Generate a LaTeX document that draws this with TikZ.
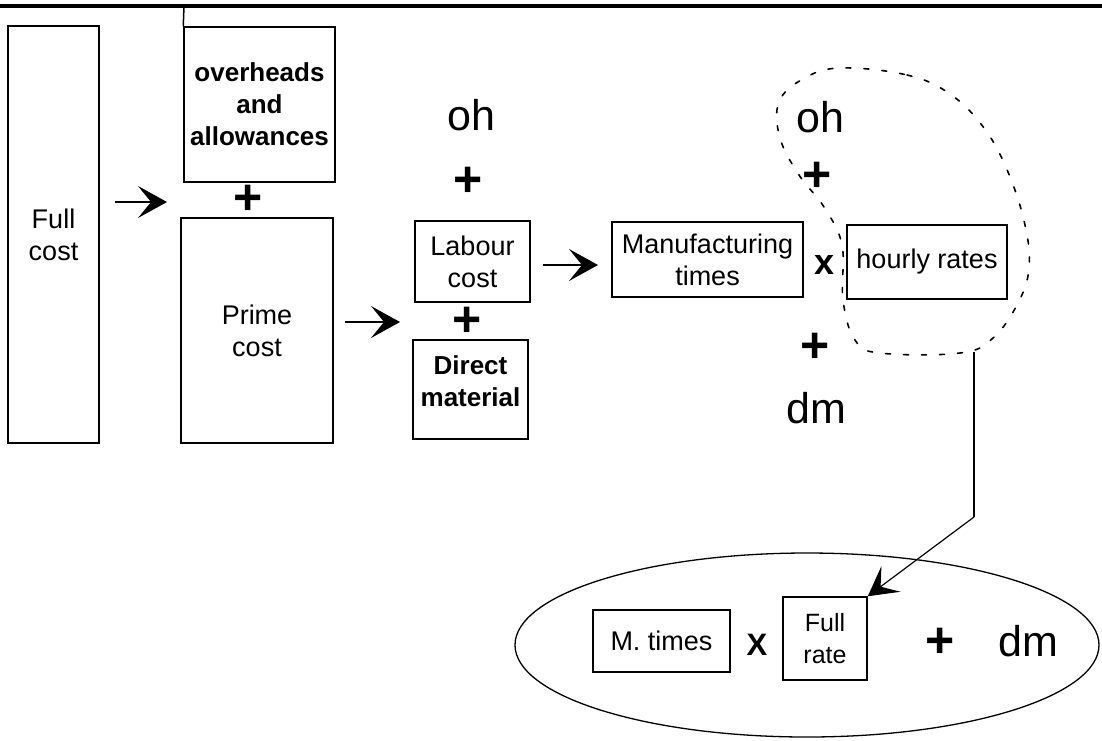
\documentclass[tikz,border=0pt]{standalone}
\usepackage{fontspec}
\setmainfont{Liberation Sans}
\usetikzlibrary{arrows.meta,shapes.geometric}
\begin{document}
\begin{tikzpicture}[x=1pt,y=-1pt,
  box/.style={draw,line width=1.5pt,inner sep=0pt,align=center,
    font=\fontsize{27}{32}\selectfont},
  boldbox/.style={box,font=\fontsize{26}{32}\selectfont\bfseries},
  plain/.style={inner sep=0pt,align=center},
  sym/.style={inner sep=0pt,font=\fontsize{50}{50}\selectfont\bfseries},
  times/.style={inner sep=0pt,anchor=base,font=\fontsize{36}{36}\selectfont\bfseries},
  term/.style={inner sep=0pt,anchor=base,font=\fontsize{43}{43}\selectfont},
  flow/.style={line width=1.3pt,-{Stealth[length=29pt,width=32pt,inset=13pt]}},
  link/.style={line width=1.2pt},
  loop/.style={line width=1.6pt,dash pattern=on 5pt off 13pt,line cap=round},
]
\useasboundingbox (0,0) rectangle (1102,740);

% heading rule
\coordinate (ruleL) at (0,6);
\coordinate (ruleR) at (1102,6);
\draw[line width=3.5pt] (ruleL) -- (ruleR);

% cost breakdown boxes
\node[box,minimum width=91pt,minimum height=417pt] (full) at (53.5,234.5) {Full\\cost};
\node[boldbox,minimum width=151pt,minimum height=155pt] (ovh) at (259.5,104.5) {overheads\\and\\allowances};
\node[box,minimum width=152pt,minimum height=225pt] (prime) at (257,330.5) {Prime\\cost};
\node[box,minimum width=115pt,minimum height=81pt] (labour) at (472.5,261.5) {Labour\\cost};
\node[box,minimum width=115pt,minimum height=99pt] (dmat) at (470.5,389.5) {};
\node[plain,font=\fontsize{26}{32}\selectfont\bfseries] (dmtxt) at (470.5,381) {Direct\\material};
\node[box,minimum width=191pt,minimum height=75pt] (manu) at (707.5,259.5) {Manufacturing\\times};
\node[box,minimum width=160pt,minimum height=74pt] (hourly) at (927,262) {hourly rates};

% stem of the overheads box up to the rule
\coordinate (stem) at (184,6);
\draw[line width=1.5pt] (stem) -- (ovh.north west);

% plus signs and terms
\node[sym] (pl1) at (248,200) {+};
\node[term] (oh1) at (471,130) {oh};
\node[sym] (pl2) at (468,182) {+};
\node[sym] (pl3) at (467,322) {+};
\node[term] (oh2) at (820,132) {oh};
\node[sym] (pl4) at (817,177) {+};
\node[times] (x1) at (824,274) {x};
\node[sym] (pl5) at (815,348) {+};
\node[term] (dm1) at (816,423) {dm};

% flow arrows
\coordinate (a1s) at (115,202);
\coordinate (a1e) at (167,202);
\coordinate (a2s) at (345,322);
\coordinate (a2e) at (400,322);
\coordinate (a3s) at (543,265);
\coordinate (a3e) at (598,265);
\draw[flow] (a1s) -- (a1e);
\draw[flow] (a2s) -- (a2e);
\draw[flow] (a3s) -- (a3e);

% dashed loop around oh + hourly rates
\draw[loop] plot[smooth cycle,tension=0.65] coordinates {
  (840,68) (907,75) (950,94) (984,128) (1008,172) (1025,225) (1029,268)
  (1018,303) (993,338) (960,353) (880,353) (855,340) (843,300) (842,245)
  (824,207) (799,175) (780,138) (779,102) (803,79)};

% summary ellipse
\node[draw,ellipse,line width=1.3pt,inner sep=0pt,minimum width=584pt,minimum height=184pt] (summary) at (807,645) {};
\node[box,minimum width=137pt,minimum height=62pt] (mt) at (661.5,641) {M. times};
\node[inner sep=0pt,font=\fontsize{31}{31}\selectfont\bfseries] (x2) at (757,645) {X};
\node[box,minimum width=84pt,minimum height=83pt,font=\fontsize{25}{32}\selectfont] (fr) at (825,638.5) {Full\\rate};
\node[sym] (pl6) at (940,643) {+};
\node[term] (dm2) at (1028,656) {dm};

% connector from the loop down into the ellipse
\coordinate (loopbot) at (974,352);
\coordinate (bend) at (974,517);
\draw[link] (loopbot) -- (bend);
\draw[flow,line width=1.2pt] (bend) -- (fr.north east);
\end{tikzpicture}
\end{document}
